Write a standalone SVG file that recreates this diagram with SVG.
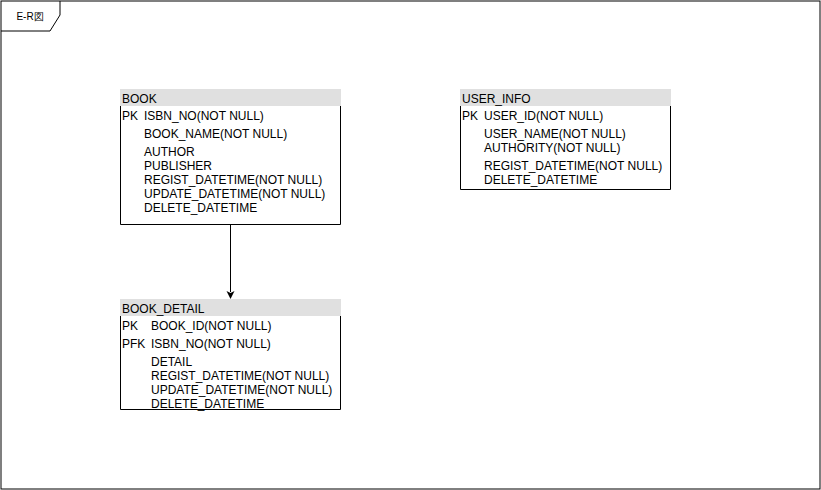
<svg xmlns="http://www.w3.org/2000/svg" width="821" height="490" viewBox="0 0 821 490">
<style>
text{font-family:"Liberation Sans",Arial,sans-serif;font-size:12px;fill:#000}
.hdr{fill:#e0e0e0;stroke:none}
.body{fill:#fff;stroke:#000;stroke-width:1}
.lbl{font-size:10px}
</style>
<rect width="821" height="490" fill="#fff"/>
<g id="frame">
<rect x="1" y="1" width="819" height="488" fill="none" stroke="#000" stroke-width="1"/>
<path d="M1,31 L50,31 L60,15 L60,1" fill="none" stroke="#000" stroke-width="1"/>
<text class="lbl" x="30" y="20" text-anchor="middle">E-R図</text>
</g>
<g id="connectors">
<line x1="230.5" y1="224" x2="230.5" y2="292" stroke="#000" stroke-width="1"/>
<path d="M226.5,291 L230.5,293 L234.5,291 L230.5,299 Z" fill="#000"/>
</g>
<g id="BOOK">
<rect class="hdr" x="120" y="89" width="221" height="17"/>
<path class="body" d="M120.5,106 L120.5,224.5 L340.5,224.5 L340.5,106"/>
<text x="122" y="102.5">BOOK</text>
<text x="122" y="120">PK</text>
<text x="144" y="120">ISBN_NO(NOT NULL)</text>
<text x="144" y="138">BOOK_NAME(NOT NULL)</text>
<text x="144" y="156">AUTHOR</text>
<text x="144" y="170">PUBLISHER</text>
<text x="144" y="184">REGIST_DATETIME(NOT NULL)</text>
<text x="144" y="198">UPDATE_DATETIME(NOT NULL)</text>
<text x="144" y="212">DELETE_DATETIME</text>
</g>
<g id="BOOK_DETAIL">
<rect class="hdr" x="120" y="299" width="221" height="17"/>
<path class="body" d="M120.5,316 L120.5,409.5 L340.5,409.5 L340.5,316"/>
<text x="122" y="312.5">BOOK_DETAIL</text>
<text x="122" y="330">PK</text>
<text x="151" y="330">BOOK_ID(NOT NULL)</text>
<text x="122" y="348">PFK</text>
<text x="151" y="348">ISBN_NO(NOT NULL)</text>
<text x="151" y="366">DETAIL</text>
<text x="151" y="380">REGIST_DATETIME(NOT NULL)</text>
<text x="151" y="394">UPDATE_DATETIME(NOT NULL)</text>
<text x="151" y="408">DELETE_DATETIME</text>
</g>
<g id="USER_INFO">
<rect class="hdr" x="460" y="89" width="211" height="17"/>
<path class="body" d="M460.5,106 L460.5,189.5 L670.5,189.5 L670.5,106"/>
<text x="462" y="102.5">USER_INFO</text>
<text x="462" y="120">PK</text>
<text x="484" y="120">USER_ID(NOT NULL)</text>
<text x="484" y="138">USER_NAME(NOT NULL)</text>
<text x="484" y="152">AUTHORITY(NOT NULL)</text>
<text x="484" y="170">REGIST_DATETIME(NOT NULL)</text>
<text x="484" y="184">DELETE_DATETIME</text>
</g>
</svg>
